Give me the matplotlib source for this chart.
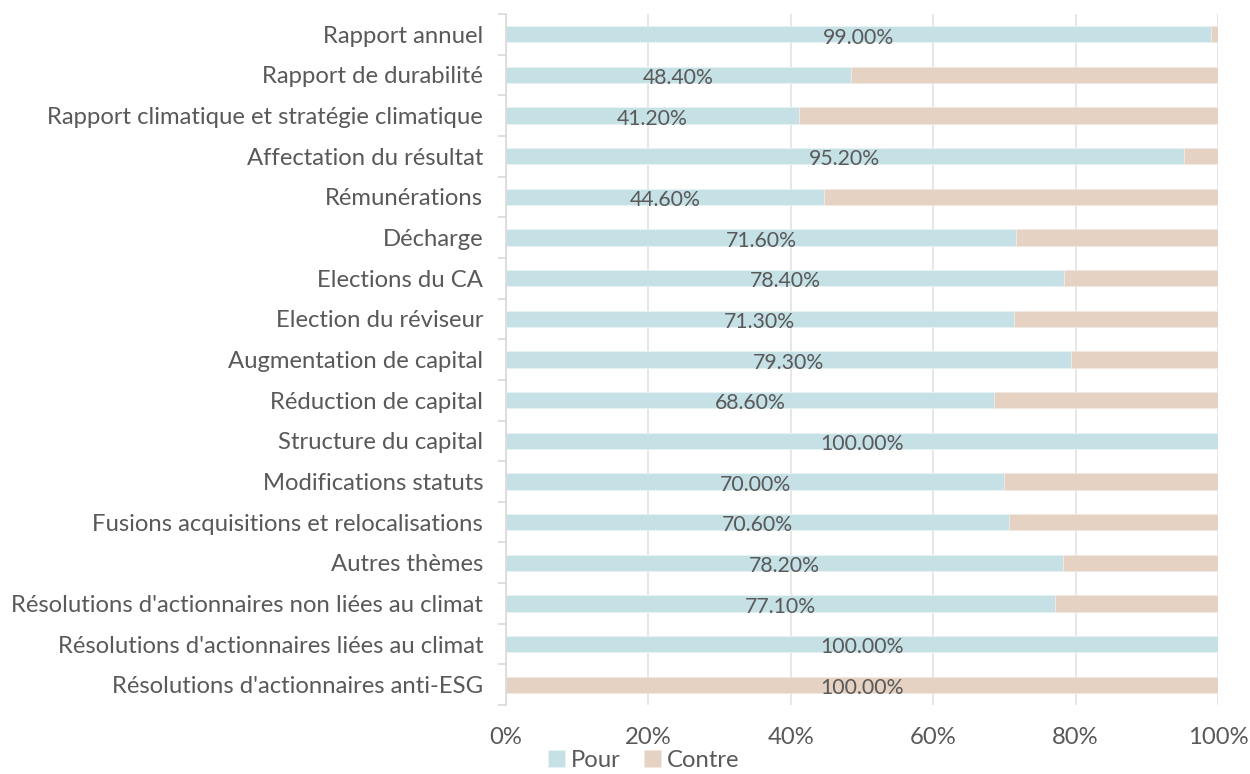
import matplotlib.pyplot as plt
import numpy as np
from matplotlib.ticker import FixedLocator, PercentFormatter

plt.rcParams['font.family'] = ['Lato', 'DejaVu Sans']

categories = [
    "Rapport annuel",
    "Rapport de durabilité",
    "Rapport climatique et stratégie climatique",
    "Affectation du résultat",
    "Rémunérations",
    "Décharge",
    "Elections du CA",
    "Election du réviseur",
    "Augmentation de capital",
    "Réduction de capital",
    "Structure du capital",
    "Modifications statuts",
    "Fusions acquisitions et relocalisations",
    "Autres thèmes",
    "Résolutions d'actionnaires non liées au climat",
    "Résolutions d'actionnaires liées au climat",
    "Résolutions d'actionnaires anti-ESG",
]
pour = [99.0, 48.4, 41.2, 95.2, 44.6, 71.6, 78.4, 71.3, 79.3, 68.6, 100.0,
        70.0, 70.6, 78.2, 77.1, 100.0, 0.0]
contre = [100 - p for p in pour]

c_pour = '#C5E1E6'
c_contre = '#E5D2C3'
txt = '#595959'

fig = plt.figure(figsize=(12.5, 7.74), dpi=100)
ax = fig.add_axes([0.4048, 0.089, 0.5696, 0.893])

y = np.arange(len(categories))
ax.barh(y, pour, height=0.4, color=c_pour, edgecolor='#E8F3F5', linewidth=0.6, label='Pour', zorder=2)
ax.barh(y, contre, left=pour, height=0.4, color=c_contre, edgecolor='#F2E9E2', linewidth=0.6, label='Contre', zorder=2)

# étiquettes au centre de la partie visible
for i in range(len(categories)):
    if pour[i] > 0:
        x, v = pour[i] / 2, pour[i]
    else:
        x, v = pour[i] + contre[i] / 2, contre[i]
    ax.text(x, y[i] + 0.08, f"{v:.2f}%", ha='center', va='center', fontsize=15.3, color=txt, zorder=3)

ax.set_xlim(0, 100)
ax.set_ylim(len(categories) - 0.5, -0.5)
ax.set_yticks(y)
ax.set_yticklabels(categories, fontsize=17.2, color=txt)
ax.yaxis.set_minor_locator(FixedLocator(np.arange(-0.5, len(categories), 1)))
ax.tick_params(axis='y', which='major', length=0, pad=16.5)
ax.tick_params(axis='y', which='minor', length=6, color='#D9D9D9', width=1.2)
ax.set_xticks(np.arange(0, 101, 20))
ax.xaxis.set_major_formatter(PercentFormatter(decimals=0))
ax.tick_params(axis='x', length=0, labelsize=17.2, colors=txt, pad=16)
ax.grid(axis='x', color='#E3E3E3', linewidth=1.2, zorder=0)

for s in ['top', 'right', 'bottom']:
    ax.spines[s].set_visible(False)
ax.spines['left'].set_color('#D9D9D9')
ax.spines['left'].set_linewidth(1.2)

fig.legend(loc='lower center', bbox_to_anchor=(0.515, -0.024), ncol=2, frameon=False,
           fontsize=17.2, labelcolor=txt, handlelength=0.7, handleheight=0.7,
           handletextpad=0.25, columnspacing=1.0)

fig.savefig('out.png', dpi=100)
